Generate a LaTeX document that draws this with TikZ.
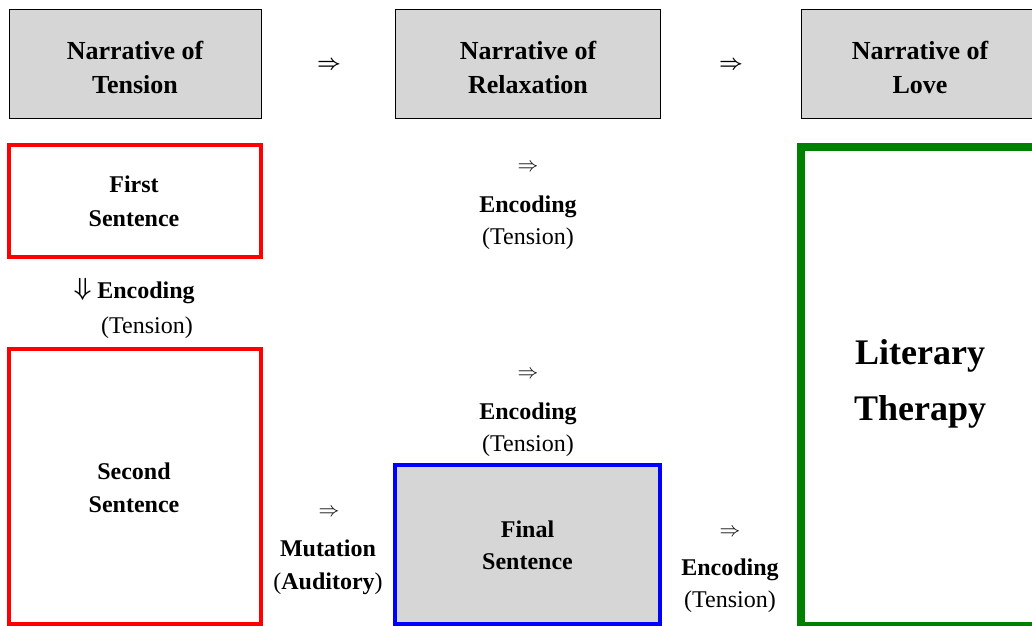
\documentclass[tikz,border=0pt]{standalone}
\usepackage{fontspec}
\setmainfont{Liberation Serif}
\definecolor{boxgray}{RGB}{214,214,214}
\definecolor{dgreen}{RGB}{0,128,0}
\begin{document}
\begin{tikzpicture}[x=1pt,y=-1pt,
  box/.style={rectangle,inner sep=0pt,outer sep=0pt},
  graybox/.style={box,draw=black,line width=1pt,fill=boxgray},
  redbox/.style={box,draw=red,line width=4pt},
  bluebox/.style={box,draw=blue,line width=4pt,fill=boxgray},
  greenbox/.style={box,draw=dgreen,line width=7.5pt},
  txt/.style={anchor=base,inner sep=0pt,font=\fontsize{24}{28}\selectfont},
  btxt/.style={anchor=base,inner sep=0pt,font=\fontsize{24}{28}\selectfont\bfseries},
  ttl/.style={anchor=base,inner sep=0pt,font=\fontsize{26}{30}\selectfont\bfseries},
  big/.style={anchor=base,inner sep=0pt,font=\fontsize{36}{42}\selectfont\bfseries},
  arr/.style={inner sep=0pt,font=\fontsize{20}{24}\selectfont},
  tarr/.style={inner sep=0pt,font=\fontsize{21}{24}\selectfont\boldmath},
]
\useasboundingbox (0,0) rectangle (1032,625);
\clip (0,0) rectangle (1032,625);
% top boxes
\node[graybox,minimum width=252.5pt,minimum height=108.5pt] (t1) at (135.25,63.75) {};
\node[graybox,minimum width=264.5pt,minimum height=108.5pt] (t2) at (527.75,63.75) {};
\node[graybox,minimum width=239pt,minimum height=108.5pt] (t3) at (920.75,63.75) {};
\node[ttl] (t1a) at (135,59) {Narrative of};
\node[ttl] (t1b) at (135,93) {Tension};
\node[ttl] (t2a) at (528,59) {Narrative of};
\node[ttl] (t2b) at (528,93) {Relaxation};
\node[ttl] (t3a) at (920,59) {Narrative of};
\node[ttl] (t3b) at (920,93) {Love};
\node[tarr] (ta1) at (329,65.5) {$\Rightarrow$};
\node[tarr] (ta2) at (731,65.5) {$\Rightarrow$};
% first sentence
\node[redbox,minimum width=251.6pt,minimum height=111.5pt] (s1) at (135,201) {};
\node[btxt] (s1a) at (134,192) {First};
\node[btxt] (s1b) at (134,226) {Sentence};
\node[arr,font=\fontsize{23}{26}\selectfont\boldmath] (da) at (82.5,289) {$\Downarrow$};
\node[btxt] (e1a) at (146,298) {Encoding};
\node[txt] (e1b) at (147,333) {(Tension)};
% second sentence
\node[redbox,minimum width=251.6pt,minimum height=274.2pt] (s2) at (135,486.4) {};
\node[btxt] (s2a) at (134,479) {Second};
\node[btxt] (s2b) at (134,512) {Sentence};
% middle stacks
\node[arr] (ma1) at (528,168) {$\Rightarrow$};
\node[btxt] (m1a) at (528,212) {Encoding};
\node[txt] (m1b) at (528,244) {(Tension)};
\node[arr] (ma2) at (528,375) {$\Rightarrow$};
\node[btxt] (m2a) at (528,419) {Encoding};
\node[txt] (m2b) at (528,451) {(Tension)};
% final sentence
\node[bluebox,minimum width=265pt,minimum height=159pt] (fs) at (527.5,544) {};
\node[btxt] (fsa) at (527.5,537) {Final};
\node[btxt] (fsb) at (527.5,569) {Sentence};
% mutation
\node[arr] (mu0) at (329,513) {$\Rightarrow$};
\node[btxt] (mua) at (328,556) {Mutation};
\node[txt] (mub) at (328,589) {(\textbf{Auditory})};
% right encoding
\node[arr] (ra0) at (730,533) {$\Rightarrow$};
\node[btxt] (raa) at (730,575) {Encoding};
\node[txt] (rab) at (730,607) {(Tension)};
% literary therapy
\node[greenbox,minimum width=239pt,minimum height=479pt] (lt) at (920.5,386.5) {};
\node[big] (lta) at (920,364) {Literary};
\node[big] (ltb) at (920,420) {Therapy};
\end{tikzpicture}
\end{document}
